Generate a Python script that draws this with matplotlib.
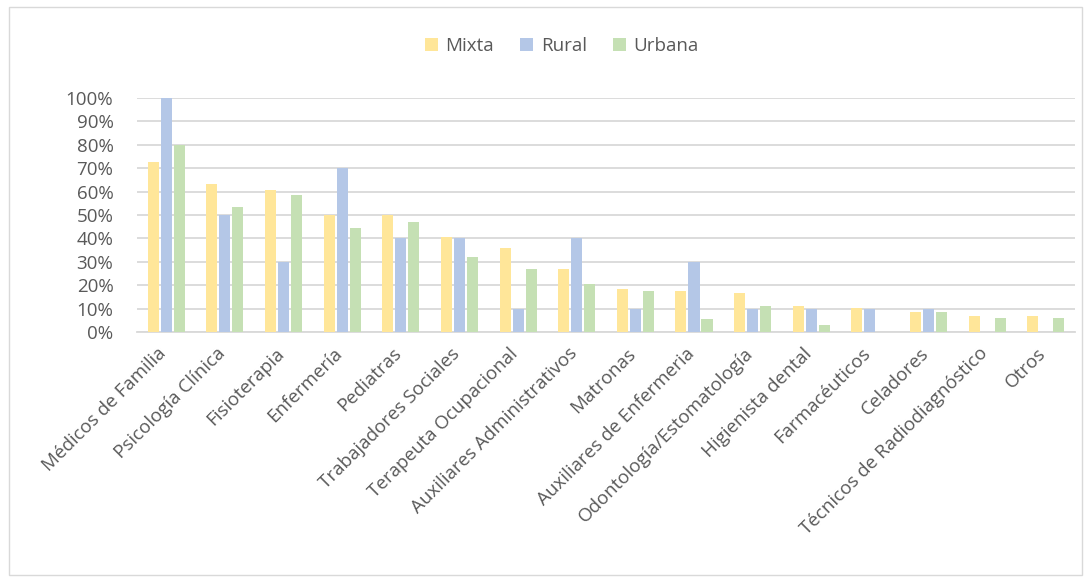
import numpy as np
import matplotlib.pyplot as plt
import matplotlib.transforms as mtransforms
from matplotlib.patches import Rectangle
from matplotlib.ticker import PercentFormatter

plt.rcParams['font.family'] = ['Open Sans', 'DejaVu Sans']

categorias = ['Médicos de Familia', 'Psicología Clínica', 'Fisioterapia', 'Enfermería',
              'Pediatras', 'Trabajadores Sociales', 'Terapeuta Ocupacional',
              'Auxiliares Administrativos', 'Matronas', 'Auxiliares de Enfermeria',
              'Odontología/Estomatología', 'Higienista dental', 'Farmacéuticos',
              'Celadores', 'Técnicos de Radiodiagnóstico', 'Otros']
mixta = [72.6, 63.2, 60.7, 50, 50, 40.6, 35.8, 26.8, 18.4, 17.5, 16.5, 11.2, 10.2, 8.4, 6.8, 6.8]
rural = [100, 50, 30, 70, 40, 40, 10, 40, 10, 30, 10, 10, 10, 10, 0, 0]
urbana = [79.9, 53.4, 58.5, 44.4, 47, 32, 26.8, 20.4, 17.7, 5.7, 11.2, 2.9, 0, 8.4, 5.9, 5.9]

series = [('Mixta', mixta, '#FFE699'), ('Rural', rural, '#B4C7E7'), ('Urbana', urbana, '#C5E0B4')]

fig = plt.figure(figsize=(10.91, 5.82), dpi=100)
ax = fig.add_axes([0.1256, 0.4296, 0.8598, 0.402])

x = np.arange(len(categorias))
w = 0.188
gap = 0.222
for i, (nombre, vals, color) in enumerate(series):
    ax.bar(x + (i - 1) * gap, np.array(vals) / 100, w, color=color, label=nombre, zorder=3)

ax.set_xlim(-0.5, len(categorias) - 0.5)
ax.set_ylim(0, 1.0)
ax.set_yticks(np.arange(0, 1.01, 0.1))
ax.yaxis.set_major_formatter(PercentFormatter(1.0, decimals=0))
ax.grid(axis='y', color='#D9D9D9', linewidth=1.3, zorder=0)
ax.set_axisbelow(True)
for s in ['top', 'right', 'left']:
    ax.spines[s].set_visible(False)
ax.spines['bottom'].set_color('#D9D9D9')
ax.spines['bottom'].set_linewidth(1.3)
ax.tick_params(axis='both', length=0, labelsize=13.5, colors='#595959')
ax.tick_params(axis='y', pad=17)
ax.tick_params(axis='x', pad=9)
ax.set_xticks(x)
ax.set_xticklabels(categorias, rotation=45, ha='right', rotation_mode='anchor')
# mover las etiquetas un poco a la izquierda, como en Excel
desplaz = mtransforms.ScaledTranslation(-0.09, 0, fig.dpi_scale_trans)
for lbl in ax.get_xticklabels():
    lbl.set_transform(lbl.get_transform() + desplaz)

fig.legend(loc='center', bbox_to_anchor=(0.515, 0.921), ncol=3, frameon=False,
           fontsize=13.5, handlelength=0.7, handleheight=0.7, handletextpad=0.4,
           columnspacing=1.4, labelcolor='#595959')

fig.patches.append(Rectangle((0.008, 0.012), 0.984, 0.976, transform=fig.transFigure,
                             fill=False, edgecolor='#D9D9D9', linewidth=1))

fig.savefig('out.png', dpi=100)
